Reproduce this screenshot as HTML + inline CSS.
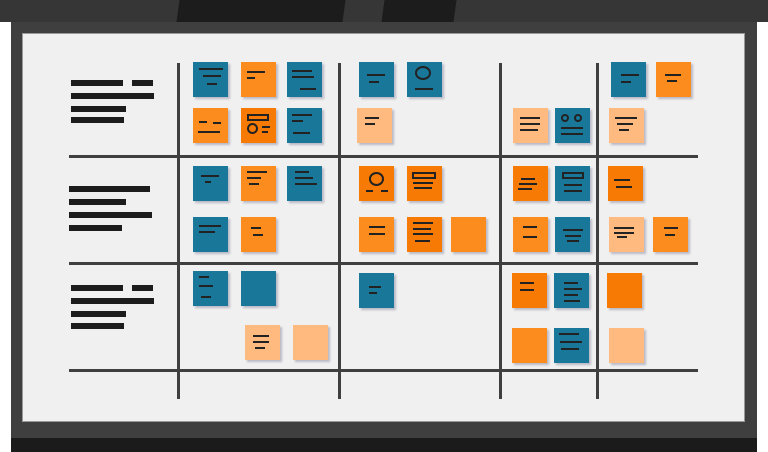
<!DOCTYPE html>
<html><head><meta charset="utf-8"><style>
*{margin:0;padding:0;box-sizing:border-box}
body{width:768px;height:452px;background:#fff;position:relative;overflow:hidden;font-family:"Liberation Sans",sans-serif}
div{position:absolute}
.t{background:#19779a}.o{background:#fd8c1f}.d{background:#f67a04}.l{background:#ffba7f}
.s{width:35px;height:35px;box-shadow:2px 2px 2px rgba(120,120,150,.45)}
.s i{position:absolute;height:2px;background:#222;display:block}
.b{background:#1c1c1c;height:6px}
.h{background:#3f3f3f;height:3px;left:69px;width:629px}
.v{background:#3f3f3f;width:3px;top:63px;height:336px}
</style></head><body>
<div style="left:0;top:0;width:768px;height:22px;background:#363636"></div>
<div style="left:178px;top:0;width:166px;height:22px;background:#1c1c1c;transform:skewX(-8deg)"></div>
<div style="left:383px;top:0;width:72px;height:22px;background:#1c1c1c;transform:skewX(-8deg)"></div>
<div style="left:11px;top:22px;width:746px;height:416px;background:#3f3f3f"></div>
<div style="left:22px;top:33px;width:723px;height:389px;background:#f0f0f0;border:1px solid #999"></div>
<div style="left:11px;top:438px;width:746px;height:14px;background:#1b1b1b"></div>

<div class="b" style="left:71px;top:80px;width:52px"></div><div class="b" style="left:132px;top:80px;width:21px"></div>
<div class="b" style="left:71px;top:93px;width:83px"></div><div class="b" style="left:71px;top:106px;width:55px"></div><div class="b" style="left:71px;top:117px;width:53px"></div>
<div class="b" style="left:69px;top:186px;width:81px"></div><div class="b" style="left:69px;top:199px;width:57px"></div><div class="b" style="left:69px;top:212px;width:83px"></div><div class="b" style="left:69px;top:225px;width:53px"></div>
<div class="b" style="left:71px;top:285px;width:52px"></div><div class="b" style="left:132px;top:285px;width:21px"></div>
<div class="b" style="left:71px;top:298px;width:83px"></div><div class="b" style="left:71px;top:311px;width:55px"></div><div class="b" style="left:71px;top:323px;width:53px"></div>

<div class="h" style="top:155px"></div><div class="h" style="top:262px"></div><div class="h" style="top:369px"></div>
<div class="v" style="left:177px"></div><div class="v" style="left:338px"></div><div class="v" style="left:499px"></div><div class="v" style="left:596px"></div>

<div class="s t" style="left:193px;top:62px"><i style="left:6px;top:6px;width:24px"></i><i style="left:10px;top:13px;width:18px"></i><i style="left:14px;top:21px;width:10px"></i></div>
<div class="s o" style="left:241px;top:62px"><i style="left:6px;top:9px;width:18px"></i><i style="left:6px;top:15px;width:8px"></i></div>
<div class="s t" style="left:287px;top:62px"><i style="left:5px;top:8px;width:20px"></i><i style="left:5px;top:14px;width:22px"></i><i style="left:13px;top:26px;width:16px"></i></div>
<div class="s o" style="left:193px;top:108px"><i style="left:6px;top:13px;width:8px"></i><i style="left:20px;top:14px;width:8px"></i><i style="left:5px;top:23px;width:22px"></i></div>
<div class="s d" style="left:241px;top:108px"><i style="left:6px;top:6px;width:22px;height:7px;background:none;border:2px solid #222"></i><i style="left:6px;top:15px;width:11px;height:11px;background:none;border:2px solid #222;border-radius:50%"></i><i style="left:21px;top:18px;width:8px"></i><i style="left:21px;top:23px;width:6px"></i></div>
<div class="s t" style="left:287px;top:108px"><i style="left:5px;top:6px;width:20px"></i><i style="left:5px;top:12px;width:11px"></i><i style="left:6px;top:24px;width:17px"></i></div>
<div class="s t" style="left:359px;top:62px"><i style="left:8px;top:12px;width:18px"></i><i style="left:10px;top:19px;width:10px"></i></div>
<div class="s t" style="left:407px;top:62px"><i style="left:8px;top:4px;width:16px;height:14px;background:none;border:2px solid #222;border-radius:50%"></i><i style="left:8px;top:26px;width:18px"></i></div>
<div class="s l" style="left:357px;top:108px"><i style="left:8px;top:9px;width:14px"></i><i style="left:8px;top:15px;width:10px"></i></div>
<div class="s l" style="left:513px;top:108px"><i style="left:7px;top:9px;width:20px"></i><i style="left:7px;top:15px;width:20px"></i><i style="left:7px;top:21px;width:18px"></i></div>
<div class="s t" style="left:555px;top:108px"><i style="left:6px;top:6px;width:8px;height:8px;background:none;border:2px solid #222;border-radius:50%"></i><i style="left:19px;top:6px;width:8px;height:8px;background:none;border:2px solid #222;border-radius:50%"></i><i style="left:6px;top:19px;width:22px"></i><i style="left:6px;top:25px;width:22px"></i></div>
<div class="s t" style="left:611px;top:62px"><i style="left:10px;top:12px;width:18px"></i><i style="left:10px;top:19px;width:10px"></i></div>
<div class="s o" style="left:656px;top:62px"><i style="left:9px;top:12px;width:16px"></i><i style="left:11px;top:18px;width:10px"></i></div>
<div class="s l" style="left:609px;top:108px"><i style="left:6px;top:9px;width:22px"></i><i style="left:8px;top:15px;width:16px"></i><i style="left:10px;top:21px;width:10px"></i></div>

<div class="s t" style="left:193px;top:166px"><i style="left:8px;top:9px;width:18px"></i><i style="left:12px;top:15px;width:6px"></i></div>
<div class="s o" style="left:241px;top:166px"><i style="left:6px;top:5px;width:20px"></i><i style="left:6px;top:11px;width:14px"></i><i style="left:8px;top:17px;width:10px"></i></div>
<div class="s t" style="left:287px;top:166px"><i style="left:8px;top:5px;width:14px"></i><i style="left:8px;top:11px;width:18px"></i><i style="left:8px;top:17px;width:22px"></i></div>
<div class="s t" style="left:193px;top:217px"><i style="left:6px;top:8px;width:22px"></i><i style="left:6px;top:14px;width:16px"></i></div>
<div class="s o" style="left:241px;top:217px"><i style="left:10px;top:10px;width:10px"></i><i style="left:12px;top:17px;width:10px"></i></div>
<div class="s d" style="left:359px;top:166px"><i style="left:10px;top:6px;width:15px;height:14px;background:none;border:2px solid #222;border-radius:50%"></i><i style="left:7px;top:24px;width:7px"></i><i style="left:22px;top:24px;width:7px"></i></div>
<div class="s d" style="left:407px;top:166px"><i style="left:5px;top:6px;width:24px;height:7px;background:none;border:2px solid #222"></i><i style="left:6px;top:16px;width:20px"></i><i style="left:7px;top:21px;width:18px"></i></div>
<div class="s o" style="left:359px;top:217px"><i style="left:10px;top:9px;width:16px"></i><i style="left:10px;top:16px;width:16px"></i></div>
<div class="s d" style="left:407px;top:217px"><i style="left:6px;top:5px;width:20px"></i><i style="left:6px;top:11px;width:18px"></i><i style="left:6px;top:16px;width:20px"></i><i style="left:8px;top:23px;width:15px"></i></div>
<div class="s o" style="left:451px;top:217px"></div>
<div class="s d" style="left:513px;top:166px"><i style="left:8px;top:12px;width:14px"></i><i style="left:6px;top:17px;width:18px"></i><i style="left:5px;top:22px;width:14px"></i></div>
<div class="s t" style="left:555px;top:166px"><i style="left:7px;top:6px;width:22px;height:7px;background:none;border:2px solid #222"></i><i style="left:9px;top:18px;width:18px"></i><i style="left:9px;top:24px;width:18px"></i></div>
<div class="s o" style="left:513px;top:217px"><i style="left:10px;top:9px;width:14px"></i><i style="left:10px;top:19px;width:14px"></i></div>
<div class="s t" style="left:555px;top:217px"><i style="left:8px;top:12px;width:20px"></i><i style="left:10px;top:18px;width:16px"></i><i style="left:12px;top:23px;width:12px"></i></div>
<div class="s d" style="left:608px;top:166px"><i style="left:6px;top:13px;width:16px"></i><i style="left:8px;top:20px;width:16px"></i></div>
<div class="s l" style="left:609px;top:217px"><i style="left:5px;top:10px;width:20px"></i><i style="left:5px;top:15px;width:20px"></i><i style="left:8px;top:19px;width:10px"></i></div>
<div class="s o" style="left:653px;top:217px"><i style="left:11px;top:10px;width:14px"></i><i style="left:12px;top:17px;width:10px"></i></div>

<div class="s t" style="left:193px;top:271px"><i style="left:6px;top:5px;width:10px"></i><i style="left:6px;top:14px;width:14px"></i><i style="left:8px;top:25px;width:10px"></i></div>
<div class="s t" style="left:241px;top:271px"></div>
<div class="s l" style="left:245px;top:325px"><i style="left:8px;top:10px;width:16px"></i><i style="left:8px;top:16px;width:16px"></i><i style="left:10px;top:22px;width:10px"></i></div>
<div class="s l" style="left:293px;top:325px"></div>
<div class="s t" style="left:359px;top:273px"><i style="left:10px;top:13px;width:12px"></i><i style="left:10px;top:19px;width:8px"></i></div>
<div class="s d" style="left:512px;top:273px"><i style="left:8px;top:9px;width:14px"></i><i style="left:8px;top:16px;width:14px"></i></div>
<div class="s t" style="left:554px;top:273px"><i style="left:10px;top:9px;width:14px"></i><i style="left:10px;top:15px;width:18px"></i><i style="left:10px;top:21px;width:14px"></i><i style="left:10px;top:27px;width:16px"></i></div>
<div class="s o" style="left:512px;top:328px"></div>
<div class="s t" style="left:554px;top:328px"><i style="left:5px;top:5px;width:20px"></i><i style="left:6px;top:13px;width:22px"></i><i style="left:7px;top:20px;width:18px"></i></div>
<div class="s d" style="left:607px;top:273px"></div>
<div class="s l" style="left:609px;top:328px"></div>
</body></html>
